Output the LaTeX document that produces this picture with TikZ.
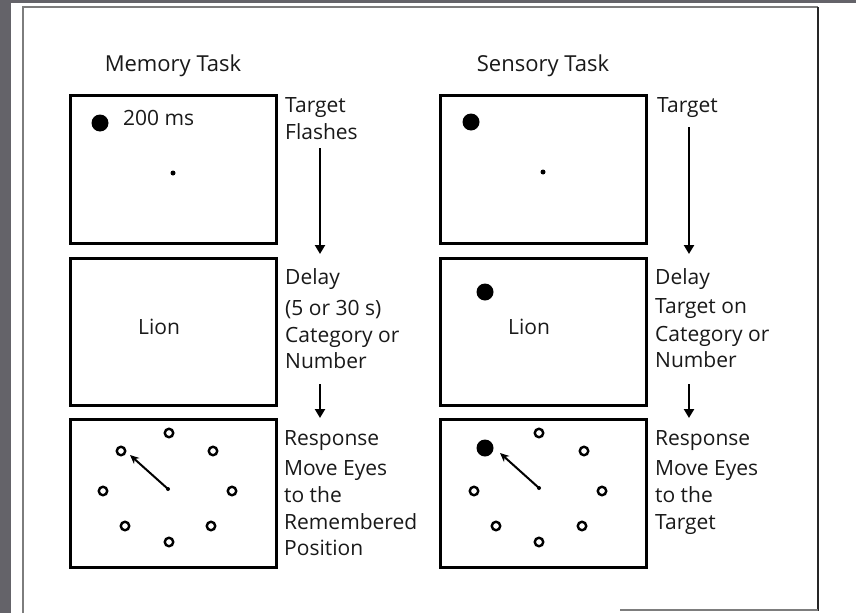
\documentclass[tikz,border=0pt]{standalone}
\usepackage{fontspec}
\setmainfont{Open Sans}
\usetikzlibrary{arrows.meta}
\definecolor{slate}{RGB}{100,99,105}
\definecolor{framegray}{RGB}{125,125,125}
\begin{document}
\begin{tikzpicture}[x=1pt,y=-1pt,
  panel/.style={draw=black,line width=3pt,minimum width=206pt,minimum height=148pt,inner sep=0pt},
  lbl/.style={font=\fontsize{21}{25}\selectfont,inner sep=0pt,anchor=base west,text=black!90},
  ttl/.style={font=\fontsize{22}{26}\selectfont,inner sep=0pt,anchor=base,text=black!90},
  flow/.style={line width=2.5pt,-{Triangle[width=10pt,length=9pt]}},
  gaze/.style={line width=2pt,-{Stealth[width=8pt,length=9pt]}},
  bigdot/.style={circle,fill=black,inner sep=0pt,minimum size=17pt},
  fixdot/.style={circle,fill=black,inner sep=0pt,minimum size=5pt},
  ring/.style={circle,draw=black,line width=2.4pt,inner sep=0pt,minimum size=8.5pt},
]
\useasboundingbox (0,0) rectangle (856,613);
\fill[white] (0,0) rectangle (856,613);
\fill[slate] (0,0) rectangle (856,3);
\fill[slate] (0,0) rectangle (11,613);
% frame
\draw[framegray,line width=1.5pt] (23,613) -- (23,7) -- (818,7);
\draw[black!85,line width=1.5pt] (818,7) -- (818,611);
\draw[framegray,line width=1.2pt] (620,610) -- (818,610);

% titles
\node[ttl] (tmem) at (173,71) {Memory Task};
\node[ttl] (tsen) at (543,71) {Sensory Task};

% memory panels
\node[panel] (m1) at (173,169) {};
\node[panel,minimum height=147pt] (m2) at (173,331.5) {};
\node[panel] (m3) at (173,493) {};
% sensory panels
\node[panel] (s1) at (543,169) {};
\node[panel,minimum height=147pt] (s2) at (543,331.5) {};
\node[panel] (s3) at (543,493) {};

% panel 1 contents
\node[bigdot] (m1t) at (100,123) {};
\node[lbl] (m1ms) at (123,125) {200 ms};
\node[fixdot] (m1f) at (173,173) {};
\node[bigdot] (s1t) at (471,122) {};
\node[fixdot] (s1f) at (543,172) {};

% panel 2 contents
\node[lbl] (m2w) at (138,334) {Lion};
\node[lbl] (s2w) at (508,334) {Lion};
\node[bigdot] (s2t) at (485,292) {};

% panel 3 contents: memory
\node[fixdot,minimum size=4pt] (m3c) at (168,489) {};
\node[ring] (m3a) at (169,433) {};
\node[ring] (m3b) at (213,451) {};
\node[ring] (m3d) at (232,491) {};
\node[ring] (m3e) at (211,526) {};
\node[ring] (m3g) at (169,542) {};
\node[ring] (m3h) at (125,526) {};
\node[ring] (m3i) at (103,491) {};
\node[ring] (m3j) at (121,451) {};
\coordinate (m3tip) at (130,455);
\draw[gaze] (m3c.center) -- (m3tip);

% panel 3 contents: sensory
\node[fixdot,minimum size=4pt] (s3c) at (539,488) {};
\node[ring] (s3a) at (539,433) {};
\node[ring] (s3b) at (584,451) {};
\node[ring] (s3d) at (602,491) {};
\node[ring] (s3e) at (582,526) {};
\node[ring] (s3g) at (539,542) {};
\node[ring] (s3h) at (496,526) {};
\node[ring] (s3i) at (474,491) {};
\node[bigdot] (s3j) at (485,448) {};
\coordinate (s3tip) at (500,453);
\draw[gaze] (s3c.center) -- (s3tip);

% memory labels
\node[lbl] (ml1) at (285,112) {Target};
\node[lbl] (ml2) at (285,139) {Flashes};
\node[lbl] (ml3) at (285,284) {Delay};
\node[lbl] (ml4) at (285,315) {(5 or 30 s)};
\node[lbl] (ml5) at (285,342) {Category or};
\node[lbl] (ml6) at (285,368) {Number};
\node[lbl] (ml7) at (284,445) {Response};
\node[lbl] (ml8) at (284,475) {Move Eyes};
\node[lbl] (ml9) at (284,502) {to the};
\node[lbl] (ml10) at (284,529) {Remembered};
\node[lbl] (ml11) at (284,555) {Position};

% sensory labels
\node[lbl] (sl1) at (657,112) {Target};
\node[lbl] (sl3) at (655,284) {Delay};
\node[lbl] (sl4) at (655,313) {Target on};
\node[lbl] (sl5) at (655,341) {Category or};
\node[lbl] (sl6) at (655,367) {Number};
\node[lbl] (sl7) at (655,445) {Response};
\node[lbl] (sl8) at (655,475) {Move Eyes};
\node[lbl] (sl9) at (655,502) {to the};
\node[lbl] (sl10) at (655,529) {Target};

% flow arrows
\coordinate (ma1s) at (320,148);
\coordinate (ma1e) at (320,254);
\coordinate (ma2s) at (320,384);
\coordinate (ma2e) at (320,418);
\coordinate (sa1s) at (689,127);
\coordinate (sa1e) at (689,254);
\coordinate (sa2s) at (689,384);
\coordinate (sa2e) at (689,418);
\draw[flow] (ma1s) -- (ma1e);
\draw[flow] (ma2s) -- (ma2e);
\draw[flow] (sa1s) -- (sa1e);
\draw[flow] (sa2s) -- (sa2e);
\end{tikzpicture}
\end{document}
